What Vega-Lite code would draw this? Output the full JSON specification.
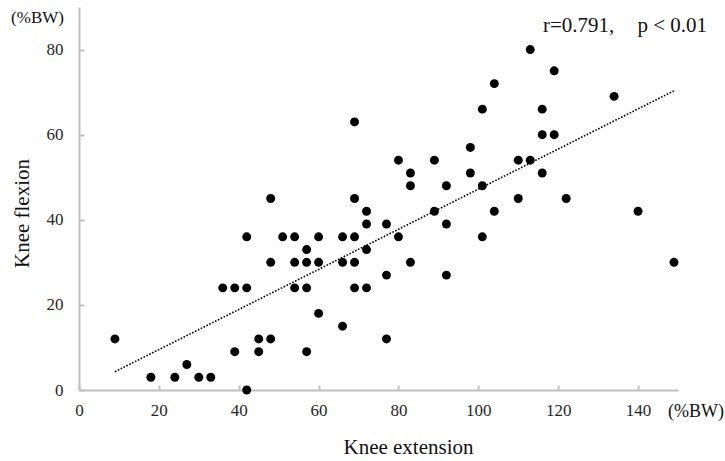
{
  "$schema": "https://vega.github.io/schema/vega-lite/v6.json",
  "width": 599,
  "height": 383,
  "autosize": {"type": "none"},
  "padding": {"left": 79, "top": 7, "right": 47, "bottom": 71},
  "background": "white",
  "config": {
    "view": {"stroke": null},
    "font": "Liberation Serif",
    "axis": {
      "grid": false,
      "domainColor": "#c0c0c0",
      "domainWidth": 2,
      "tickColor": "#c0c0c0",
      "tickWidth": 2,
      "tickSize": -5,
      "labelFont": "Liberation Serif",
      "labelFontSize": 17,
      "labelColor": "#262626",
      "labelFlush": false,
      "titleFont": "Liberation Serif",
      "titleFontWeight": "normal",
      "titleColor": "#111111"
    }
  },
  "datasets": {
    "points": [
      {"ext": 9, "flex": 12}, {"ext": 18, "flex": 3}, {"ext": 24, "flex": 3}, {"ext": 27, "flex": 6},
      {"ext": 30, "flex": 3}, {"ext": 33, "flex": 3}, {"ext": 36, "flex": 24}, {"ext": 39, "flex": 24},
      {"ext": 39, "flex": 9}, {"ext": 42, "flex": 36}, {"ext": 42, "flex": 24}, {"ext": 42, "flex": 0},
      {"ext": 45, "flex": 12}, {"ext": 45, "flex": 9}, {"ext": 48, "flex": 45}, {"ext": 48, "flex": 30},
      {"ext": 48, "flex": 12}, {"ext": 51, "flex": 36}, {"ext": 54, "flex": 36}, {"ext": 54, "flex": 30},
      {"ext": 54, "flex": 24}, {"ext": 57, "flex": 33}, {"ext": 57, "flex": 30}, {"ext": 57, "flex": 24},
      {"ext": 57, "flex": 9}, {"ext": 60, "flex": 36}, {"ext": 60, "flex": 30}, {"ext": 60, "flex": 18},
      {"ext": 66, "flex": 36}, {"ext": 66, "flex": 30}, {"ext": 66, "flex": 15}, {"ext": 69, "flex": 63},
      {"ext": 69, "flex": 45}, {"ext": 69, "flex": 36}, {"ext": 69, "flex": 30}, {"ext": 69, "flex": 24},
      {"ext": 72, "flex": 42}, {"ext": 72, "flex": 39}, {"ext": 72, "flex": 33}, {"ext": 72, "flex": 24},
      {"ext": 77, "flex": 39}, {"ext": 77, "flex": 27}, {"ext": 77, "flex": 12}, {"ext": 80, "flex": 54},
      {"ext": 80, "flex": 36}, {"ext": 83, "flex": 51}, {"ext": 83, "flex": 48}, {"ext": 83, "flex": 30},
      {"ext": 89, "flex": 54}, {"ext": 89, "flex": 42}, {"ext": 92, "flex": 48}, {"ext": 92, "flex": 39},
      {"ext": 92, "flex": 27}, {"ext": 98, "flex": 57}, {"ext": 98, "flex": 51}, {"ext": 101, "flex": 66},
      {"ext": 101, "flex": 48}, {"ext": 101, "flex": 36}, {"ext": 104, "flex": 72}, {"ext": 104, "flex": 42},
      {"ext": 110, "flex": 54}, {"ext": 110, "flex": 45}, {"ext": 113, "flex": 80}, {"ext": 113, "flex": 54},
      {"ext": 116, "flex": 66}, {"ext": 116, "flex": 60}, {"ext": 116, "flex": 51}, {"ext": 119, "flex": 75},
      {"ext": 119, "flex": 60}, {"ext": 122, "flex": 45}, {"ext": 134, "flex": 69}, {"ext": 140, "flex": 42},
      {"ext": 149, "flex": 30}
    ],
    "trend": [
      {"ext": 9, "flex": 4.3},
      {"ext": 149, "flex": 70.3}
    ]
  },
  "layer": [
    {
      "data": {"name": "trend"},
      "mark": {"type": "line", "color": "#000000", "strokeWidth": 1.6, "strokeDash": [1.6, 1.6]},
      "encoding": {
        "x": {"field": "ext", "type": "quantitative"},
        "y": {"field": "flex", "type": "quantitative"}
      }
    },
    {
      "data": {"name": "points"},
      "mark": {"type": "circle", "color": "#000000", "opacity": 1, "size": 80},
      "encoding": {
        "x": {
          "field": "ext",
          "type": "quantitative",
          "scale": {"domain": [0, 150], "nice": false, "zero": true},
          "axis": {
            "values": [0, 20, 40, 60, 80, 100, 120, 140],
            "title": "Knee extension",
            "titleFont": "Liberation Serif",
            "labelFont": "Liberation Serif",
            "titleFontSize": 21,
            "titleX": 329,
            "titleY": 63,
            "titleAlign": "center",
            "titleBaseline": "alphabetic",
            "labelPadding": 17
          }
        },
        "y": {
          "field": "flex",
          "type": "quantitative",
          "scale": {"domain": [0, 90], "nice": false},
          "axis": {
            "values": [0, 20, 40, 60, 80],
            "title": "Knee flexion",
            "titleFont": "Liberation Serif",
            "labelFont": "Liberation Serif",
            "titleFontSize": 21,
            "titleAngle": -90,
            "titleX": -50.5,
            "titleY": 206,
            "titleAlign": "center",
            "titleBaseline": "alphabetic",
            "labelPadding": 21
          }
        }
      }
    },
    {
      "data": {"values": [{"label": "r=0.791,"}]},
      "mark": {"type": "text", "align": "left", "baseline": "alphabetic", "dx": -135, "dy": 24.5, "fontSize": 21, "font": "Liberation Serif", "color": "#111111"},
      "encoding": {
        "x": {"datum": 150, "type": "quantitative"},
        "y": {"datum": 90, "type": "quantitative"},
        "text": {"field": "label"}
      }
    },
    {
      "data": {"values": [{"label": "p < 0.01"}]},
      "mark": {"type": "text", "align": "right", "baseline": "alphabetic", "dx": 29, "dy": 24.5, "fontSize": 21, "font": "Liberation Serif", "color": "#111111"},
      "encoding": {
        "x": {"datum": 150, "type": "quantitative"},
        "y": {"datum": 90, "type": "quantitative"},
        "text": {"field": "label"}
      }
    },
    {
      "data": {"values": [{"label": "(%BW)"}]},
      "mark": {"type": "text", "align": "center", "baseline": "middle", "dx": -41.5, "dy": 11, "fontSize": 17, "font": "Liberation Serif", "color": "#111111"},
      "encoding": {
        "x": {"datum": 0, "type": "quantitative"},
        "y": {"datum": 90, "type": "quantitative"},
        "text": {"field": "label"}
      }
    },
    {
      "data": {"values": [{"label": "(%BW)"}]},
      "mark": {"type": "text", "align": "center", "baseline": "middle", "dx": 18, "dy": 22, "fontSize": 18, "font": "Liberation Serif", "color": "#111111"},
      "encoding": {
        "x": {"datum": 150, "type": "quantitative"},
        "y": {"datum": 0, "type": "quantitative"},
        "text": {"field": "label"}
      }
    }
  ]
}
